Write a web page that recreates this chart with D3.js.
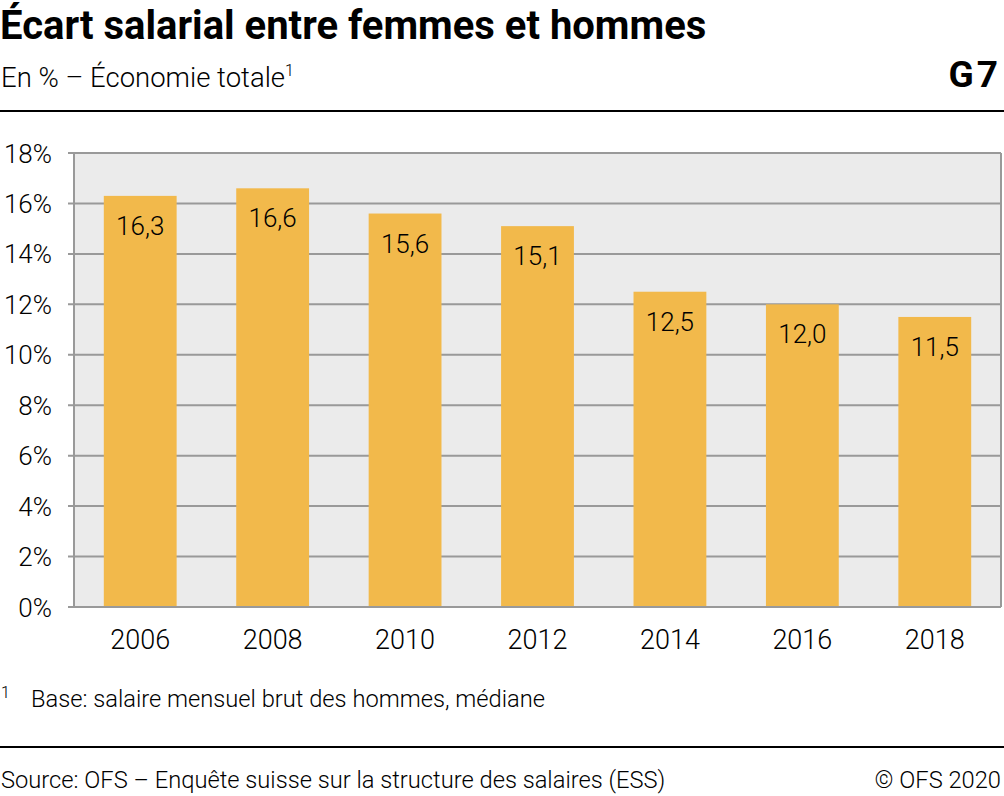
<!DOCTYPE html>
<html><head><meta charset="utf-8">
<script src="https://cdn.jsdelivr.net/npm/d3@7"></script>
<style>
body{margin:0;background:#fff;}
text{font-family:Roboto,"Liberation Sans",sans-serif;}
</style></head>
<body><svg id="c" width="1004" height="796"></svg>
<script>
const years = ["2006","2008","2010","2012","2014","2016","2018"];
const values = [16.3,16.6,15.6,15.1,12.5,12.0,11.5];
const yTicks = [0,2,4,6,8,10,12,14,16,18];

const svg = d3.select("#c");
const W = 1004;
const m = {left:74, right:1001, top:153, bottom:607};

svg.append("text").attr("x",0).attr("y",39).attr("font-size",40).attr("font-weight",700).attr("fill","#000").text("Écart salarial entre femmes et hommes");
const sub = svg.append("text").attr("x",1).attr("y",87).attr("font-size",27.5).attr("font-weight",300).attr("fill","#000");
sub.append("tspan").text("En % – Économie totale");
sub.append("tspan").attr("font-size",16).attr("dy",-11).text("1");
svg.append("text").attr("x",1001).attr("y",87).attr("text-anchor","end").attr("font-size",37).attr("font-weight",700).attr("letter-spacing",3).text("G7");
svg.append("line").attr("x1",0).attr("x2",W).attr("y1",111).attr("y2",111).attr("stroke","#000").attr("stroke-width",2);

const x = d3.scaleBand().domain(years).range([m.left,m.right]).paddingInner(0.45).paddingOuter(0.225);
const y = d3.scaleLinear().domain([0,18]).range([m.bottom,m.top]);

svg.append("rect").attr("x",m.left).attr("y",m.top).attr("width",m.right-m.left).attr("height",m.bottom-m.top).attr("fill","#ebebeb");

svg.selectAll("line.grid").data(yTicks).join("line").attr("class","grid")
 .attr("x1",m.left-6).attr("x2",m.right).attr("y1",d=>y(d)).attr("y2",d=>y(d))
 .attr("stroke","#999").attr("stroke-width",2);
svg.append("line").attr("x1",m.left).attr("x2",m.left).attr("y1",m.top).attr("y2",m.bottom).attr("stroke","#999").attr("stroke-width",2);
svg.append("line").attr("x1",m.right).attr("x2",m.right).attr("y1",m.top).attr("y2",m.bottom).attr("stroke","#999").attr("stroke-width",2);

svg.selectAll("rect.bar").data(values).join("rect").attr("class","bar")
 .attr("x",(d,i)=>x(years[i])).attr("width",x.bandwidth())
 .attr("y",d=>y(d)).attr("height",d=>y(0)-y(d)).attr("fill","#f2b94b");

svg.append("line").attr("x1",m.left-6).attr("x2",m.right).attr("y1",m.bottom).attr("y2",m.bottom).attr("stroke","#999").attr("stroke-width",2);

svg.selectAll("text.val").data(values).join("text").attr("class","val")
 .attr("x",(d,i)=>x(years[i])+x.bandwidth()/2).attr("y",d=>y(d)+39)
 .attr("text-anchor","middle").attr("font-size",26).attr("font-weight",300).attr("fill","#000")
 .text(d=>d3.format(".1f")(d).replace(".",","));

svg.selectAll("text.yt").data(yTicks).join("text").attr("class","yt")
 .attr("x",52).attr("y",d=>y(d)+9.5).attr("text-anchor","end")
 .attr("font-size",26).attr("font-weight",300).text(d=>d+"%");

svg.selectAll("text.xt").data(years).join("text").attr("class","xt")
 .attr("x",d=>x(d)+x.bandwidth()/2).attr("y",649).attr("text-anchor","middle")
 .attr("font-size",27).attr("font-weight",300).text(d=>d);

svg.append("text").attr("x",1).attr("y",698).attr("font-size",16).attr("font-weight",300).text("1");
svg.append("text").attr("x",31).attr("y",707).attr("font-size",23.7).attr("font-weight",300).text("Base: salaire mensuel brut des hommes, médiane");
svg.append("line").attr("x1",0).attr("x2",W).attr("y1",747).attr("y2",747).attr("stroke","#000").attr("stroke-width",2);
svg.append("text").attr("x",1).attr("y",788).attr("font-size",23.7).attr("font-weight",300).text("Source: OFS – Enquête suisse sur la structure des salaires (ESS)");
svg.append("text").attr("x",1001).attr("y",788).attr("text-anchor","end").attr("font-size",23.7).attr("font-weight",300).text("© OFS 2020");
</script></body></html>
